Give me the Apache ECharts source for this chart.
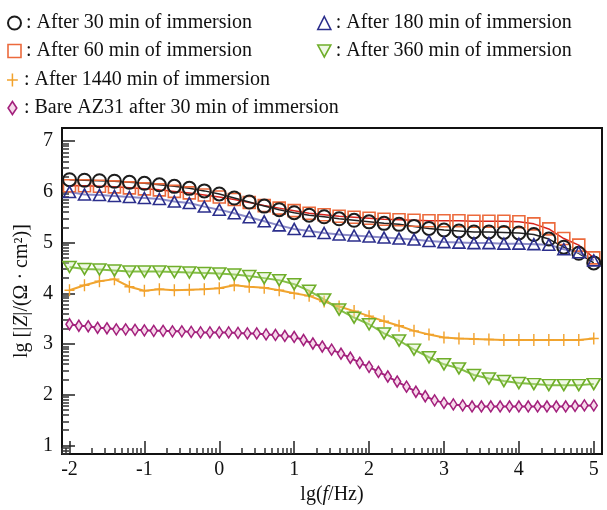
<!DOCTYPE html>
<html>
<head>
<meta charset="utf-8">
<title>Bode |Z|</title>
<script src="https://cdn.jsdelivr.net/npm/echarts@6/dist/echarts.min.js"></script>
<style>
html, body { margin: 0; background: #fff; }
#main { width: 607px; height: 510px; }
</style>
</head>
<body>
<div id="main"></div>
<script>
// lg(f/Hz) sample positions
var lgf36 = [-2, -1.8, -1.6, -1.4, -1.2, -1, -0.8, -0.6, -0.4, -0.2, 0, 0.2, 0.4, 0.6, 0.8, 1,
  1.2, 1.4, 1.6, 1.8, 2, 2.2, 2.4, 2.6, 2.8, 3, 3.2, 3.4, 3.6, 3.8, 4, 4.2, 4.4, 4.6, 4.8, 5];
var lgf57 = [-2, -1.875, -1.75, -1.625, -1.5, -1.375, -1.25, -1.125, -1, -0.875, -0.75, -0.625,
  -0.5, -0.375, -0.25, -0.125, 0, 0.125, 0.25, 0.375, 0.5, 0.625, 0.75, 0.875, 1, 1.125, 1.25,
  1.375, 1.5, 1.625, 1.75, 1.875, 2, 2.125, 2.25, 2.375, 2.5, 2.625, 2.75, 2.875, 3, 3.125, 3.25,
  3.375, 3.5, 3.625, 3.75, 3.875, 4, 4.125, 4.25, 4.375, 4.5, 4.625, 4.75, 4.875, 5];

// lg|Z| values
var z30 = [6.24, 6.23, 6.22, 6.21, 6.19, 6.17, 6.14, 6.11, 6.07, 6.02, 5.96, 5.88, 5.80, 5.72, 5.65, 5.59,
  5.54, 5.51, 5.47, 5.44, 5.41, 5.38, 5.36, 5.32, 5.28, 5.25, 5.23, 5.21, 5.21, 5.20, 5.19, 5.16, 5.07, 4.91, 4.79, 4.60];
var z60 = [6.12, 6.12, 6.11, 6.10, 6.08, 6.06, 6.04, 6.01, 5.98, 5.94, 5.90, 5.85, 5.79, 5.73, 5.68, 5.63,
  5.58, 5.55, 5.52, 5.50, 5.48, 5.46, 5.45, 5.44, 5.43, 5.43, 5.43, 5.42, 5.42, 5.42, 5.41, 5.37, 5.27, 5.08, 4.95, 4.70];
var z180 = [6.00, 5.95, 5.94, 5.92, 5.90, 5.88, 5.86, 5.81, 5.78, 5.71, 5.65, 5.58, 5.50, 5.42, 5.34, 5.27,
  5.23, 5.19, 5.16, 5.14, 5.12, 5.10, 5.08, 5.06, 5.03, 5.01, 5.00, 4.99, 4.99, 4.98, 4.98, 4.97, 4.96, 4.87, 4.81, 4.65];
var z360 = [4.52, 4.48, 4.47, 4.45, 4.43, 4.43, 4.43, 4.42, 4.41, 4.40, 4.39, 4.37, 4.34, 4.30, 4.26, 4.18,
  4.05, 3.88, 3.68, 3.52, 3.39, 3.21, 3.07, 2.89, 2.74, 2.60, 2.52, 2.39, 2.32, 2.27, 2.23, 2.21, 2.19, 2.19, 2.19, 2.21];
var z1440 = [4.06, 4.16, 4.24, 4.28, 4.13, 4.05, 4.08, 4.06, 4.07, 4.08, 4.10, 4.16, 4.13, 4.11, 4.06, 4.00,
  3.95, 3.84, 3.74, 3.65, 3.55, 3.45, 3.36, 3.26, 3.19, 3.13, 3.11, 3.10, 3.09, 3.08, 3.08, 3.08, 3.08, 3.08, 3.08, 3.11];
var zBare = [3.39, 3.36, 3.35, 3.32, 3.31, 3.29, 3.29, 3.28, 3.27, 3.26, 3.26, 3.25, 3.25, 3.24, 3.23, 3.23,
  3.23, 3.23, 3.22, 3.21, 3.21, 3.19, 3.18, 3.16, 3.14, 3.08, 3.01, 2.95, 2.89, 2.81, 2.73, 2.63, 2.55, 2.45,
  2.36, 2.26, 2.16, 2.06, 1.97, 1.89, 1.84, 1.81, 1.79, 1.77, 1.77, 1.77, 1.77, 1.77, 1.77, 1.77, 1.77, 1.77,
  1.77, 1.77, 1.78, 1.79, 1.79];

var names = ['After 30 min of immersion', 'After 60 min of immersion', 'After 180 min of immersion',
  'After 360 min of immersion', 'After 1440 min of immersion', 'Bare AZ31 after 30 min of immersion'];

var xTicks = [-2, -1, 0, 1, 2, 3, 4, 5];
var yTicks = [1, 2, 3, 4, 5, 6, 7];
var xMin = -2.1, xMax = 5.11, yMin = 0.83, yMax = 7.26;

// log-decade minor ticks
function logMinor(lo, hi) {
  var out = [];
  for (var n = Math.floor(lo) - 1; n <= Math.ceil(hi); n++) {
    for (var k = 2; k <= 9; k++) {
      var v = n + Math.log10(k);
      if (v > lo && v < hi) out.push(v);
    }
  }
  return out;
}

var FONT = 'Liberation Serif';
var plusPath = 'path://M4.3,0H5.7V12H4.3Z M0,5.3H10V6.7H0Z';
var downTri = 'path://M0,0L12,0L6,11Z';
var thinDiamond = 'path://M4,0L8,6L4,12L0,6Z';

function pairs(x, y) {
  return x.map(function (v, i) { return [v, y[i]]; });
}

function mk(name, x, y, sym, size, item, line, rotate) {
  return {
    type: 'line', name: name, data: pairs(x, y),
    symbol: sym, symbolSize: size, symbolRotate: rotate || 0,
    itemStyle: item, lineStyle: line, z: 3
  };
}

var st = {
  c30: {color: 'rgba(0,0,0,0)', borderColor: '#1c1c1c', borderWidth: 2},
  c60: {color: 'rgba(0,0,0,0)', borderColor: '#ec6a3c', borderWidth: 1.6},
  c180: {color: 'rgba(0,0,0,0)', borderColor: '#2b2e8c', borderWidth: 1.6},
  c360: {color: 'rgba(210,235,180,0.35)', borderColor: '#6fae2a', borderWidth: 1.6},
  c1440: {color: '#f2a22c', borderWidth: 0},
  cBare: {color: '#f6d9ea', borderColor: '#a3207c', borderWidth: 1.6}
};

var chart = echarts.init(document.getElementById('main'));

var legendText = {fontFamily: FONT, fontSize: 20, lineHeight: 20, color: '#111'};
function leg(left, top, items) {
  return {
    left: left, top: top, orient: 'vertical', itemGap: 8, itemWidth: 13, itemHeight: 13,
    itemTextGap: 3, selectedMode: false, textStyle: legendText,
    formatter: function (n) { return ': ' + n; },
    data: items
  };
}

var option = {
  animation: false,
  backgroundColor: '#fff',
  legend: [
    leg(2, 8, [
      {name: names[0], icon: 'circle', itemStyle: st.c30},
      {name: names[1], icon: 'rect', itemStyle: st.c60}
    ]),
    leg(312, 8, [
      {name: names[2], icon: 'triangle', itemStyle: st.c180},
      {name: names[3], icon: downTri, itemStyle: st.c360}
    ]),
    leg(2, 65, [
      {name: names[4], icon: plusPath, itemStyle: st.c1440},
      {name: names[5], icon: thinDiamond, itemStyle: st.cBare}
    ])
  ],
  grid: {
    left: 62, right: 5, top: 128, bottom: 51,
    show: true, borderColor: '#111', borderWidth: 2, backgroundColor: '#fff'
  },
  xAxis: [{
    type: 'value', min: xMin, max: xMax, position: 'bottom',
    name: '{a|lg(}{i|f}{a|/Hz)}', nameLocation: 'middle', nameGap: 23,
    nameTextStyle: {
      rich: {
        a: {fontFamily: FONT, fontSize: 20, color: '#111'},
        i: {fontFamily: FONT, fontSize: 20, fontStyle: 'italic', color: '#111'}
      }
    },
    axisLine: {show: true, onZero: false, lineStyle: {color: '#111', width: 2}},
    axisTick: {show: true, inside: true, length: 13, customValues: xTicks, lineStyle: {color: '#222', width: 1.5}},
    axisLabel: {customValues: xTicks, margin: 6, fontFamily: FONT, fontSize: 20, color: '#111'},
    splitLine: {show: false}
  }, {
    type: 'value', min: xMin, max: xMax, position: 'bottom',
    axisLine: {show: false, onZero: false},
    axisTick: {show: true, inside: true, length: 6, customValues: logMinor(xMin, xMax), lineStyle: {color: '#333', width: 1.5}},
    axisLabel: {show: false},
    splitLine: {show: false}
  }],
  yAxis: [{
    type: 'value', min: yMin, max: yMax, position: 'left',
    name: '{a|lg [|}{i|Z}{a||/(Ω · cm²)]}', nameLocation: 'middle', nameGap: 25, nameRotate: 90,
    nameTextStyle: {
      rich: {
        a: {fontFamily: FONT, fontSize: 20, color: '#111'},
        i: {fontFamily: FONT, fontSize: 20, fontStyle: 'italic', color: '#111'}
      }
    },
    axisLine: {show: true, onZero: false, lineStyle: {color: '#111', width: 2}},
    axisTick: {show: true, inside: true, length: 13, customValues: yTicks, lineStyle: {color: '#222', width: 1.5}},
    axisLabel: {customValues: yTicks, margin: 9, fontFamily: FONT, fontSize: 20, color: '#111'},
    splitLine: {show: false}
  }, {
    type: 'value', min: yMin, max: yMax, position: 'left',
    axisLine: {show: false, onZero: false},
    axisTick: {show: true, inside: true, length: 7, customValues: logMinor(yMin, yMax), lineStyle: {color: '#333', width: 1.5}},
    axisLabel: {show: false},
    splitLine: {show: false}
  }],
  series: [
    mk(names[5], lgf57, zBare, 'diamond', [7, 11], st.cBare, {color: '#a3207c', width: 2}),
    mk(names[4], lgf36, z1440, plusPath, [10, 12], st.c1440, {color: '#f0a530', width: 2}),
    mk(names[3], lgf36, z360, 'triangle', [13, 11], st.c360, {color: '#84bf48', width: 2}, 180),
    mk(names[1], lgf36, z60, 'rect', 12, st.c60, {color: '#d8231c', width: 1.5}),
    mk(names[0], lgf36, z30, 'circle', 13, st.c30, {color: '#222', width: 1.5}),
    mk(names[2], lgf36, z180, 'triangle', [12, 11], st.c180, {color: '#8c8cc8', width: 2})
  ]
};

chart.setOption(option);
</script>
</body>
</html>
